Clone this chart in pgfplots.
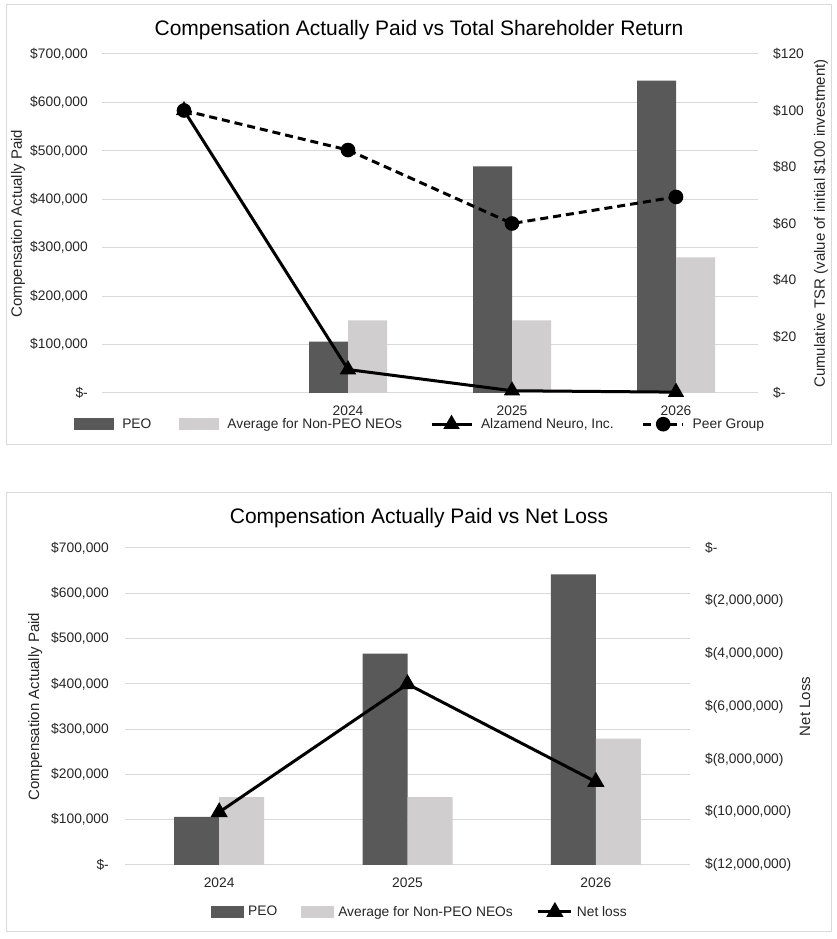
\documentclass[border=0pt]{standalone}
\usepackage{pgfplots}
\pgfplotsset{compat=1.18}
\usepackage{fontspec}
\setmainfont{Liberation Sans}
\definecolor{peo}{HTML}{595959}
\definecolor{npeo}{HTML}{D0CECE}
\definecolor{gridgray}{HTML}{D9D9D9}
\definecolor{framegray}{HTML}{D9D9D9}
\definecolor{txt}{HTML}{262626}
\newcommand{\tickfont}{\fontsize{13.8}{16}\selectfont}
\newcommand{\labfont}{\fontsize{15}{18}\selectfont}
\newcommand{\titfont}{\fontsize{21}{25}\selectfont}
\pgfplotsset{
  common/.style={
    scale only axis, anchor=south west,
    /pgf/number format/assume math mode=true,
    scaled y ticks=false, scaled x ticks=false,
    axis line style={draw=none}, tick style={draw=none},
    ticklabel style={font=\tickfont, inner sep=0pt, text=txt},
    label style={font=\labfont, text=txt},
    clip=false,
  },
  barimg/.style={legend image code/.code={\fill[##1] (0pt,-6pt) rectangle (#1,6pt);}},
  lineimg/.style={legend image code/.code={\draw[##1, mark repeat=2, mark phase=2] plot coordinates {(0pt,0pt) (#1/2,0pt) (#1,0pt)};}},
}
\begin{document}
\begin{tikzpicture}[x=1pt,y=1pt]
\path[use as bounding box, fill=white] (0,0) rectangle (836,939);
\draw[framegray, line width=1pt] (6,494) rectangle (831,934);
\draw[framegray, line width=1pt] (6,7) rectangle (831,446);
\node[font=\titfont, text=black] at (419,909) {Compensation Actually Paid vs Total Shareholder Return};
\node[font=\titfont, text=black] at (419,421) {Compensation Actually Paid vs Net Loss};

% ---------- Top chart: bars ----------
\begin{axis}[common,
  at={(102pt,546pt)}, width=656pt, height=339pt,
  xmin=-0.5, xmax=3.5, ymin=0, ymax=700000,
  ybar=0pt, bar width=39pt,
  xtick={1,2,3}, xticklabels={2024,2025,2026},
  xticklabel style={anchor=north, yshift=-8pt},
  ytick={0,100000,200000,300000,400000,500000,600000,700000},
  yticklabels={{\$-},{\$100,000},{\$200,000},{\$300,000},{\$400,000},{\$500,000},{\$600,000},{\$700,000}},
  yticklabel style={anchor=east, xshift=-14pt},
  ymajorgrids, grid style={draw=gridgray, line width=1pt},
  ylabel={Compensation Actually Paid},
  ylabel style={at={(axis description cs:-0.128,0.5)}, anchor=center},
]
\addplot[fill=peo, draw=none] coordinates {(1,106000) (2,468000) (3,645000)};
\addplot[fill=npeo, draw=none] coordinates {(1,150000) (2,150000) (3,280000)};
\end{axis}

% ---------- Top chart: TSR lines ----------
\begin{axis}[common,
  at={(102pt,546pt)}, width=656pt, height=339pt,
  xmin=-0.5, xmax=3.5, ymin=0, ymax=120,
  axis y line*=right, axis x line=none,
  ytick={0,20,40,60,80,100,120},
  yticklabels={{\$-},{\$20},{\$40},{\$60},{\$80},{\$100},{\$120}},
  yticklabel style={anchor=west, xshift=15pt},
  ylabel={Cumulative TSR (value of initial \$100 investment)},
  ylabel style={at={(axis description cs:1.096,0.5)}, anchor=center},
  legend columns=4,
  legend style={draw=none, fill=none, font=\tickfont, text=txt,
    at={(axis description cs:0.485,-0.092)}, anchor=center,
    /tikz/every odd column/.append style={column sep=6pt},
    /tikz/every even column/.append style={column sep=26pt},
    cells={anchor=west}},
]
\addlegendimage{barimg=40pt, fill=peo, draw=none}
\addlegendentry{PEO}
\addlegendimage{barimg=40pt, fill=npeo, draw=none}
\addlegendentry{Average for Non-PEO NEOs}
\addplot[lineimg=40pt, black, line width=3pt, mark=triangle*, mark size=6.5pt]
  coordinates {(0,100) (1,8.3) (2,0.8) (3,0.3)};
\addlegendentry{Alzamend Neuro, Inc.}
\addplot[lineimg=40pt, black, line width=3pt, dash pattern=on 8pt off 5pt, mark=*, mark size=5.8pt, mark options={solid}]
  coordinates {(0,100) (1,86) (2,60) (3,69.4)};
\addlegendentry{Peer Group}
\end{axis}

% ---------- Bottom chart: bars ----------
\begin{axis}[common,
  at={(125pt,74pt)}, width=565pt, height=317pt,
  xmin=-0.5, xmax=2.5, ymin=0, ymax=700000,
  ybar=0pt, bar width=45pt,
  xtick={0,1,2}, xticklabels={2024,2025,2026},
  xticklabel style={anchor=north, yshift=-8pt},
  ytick={0,100000,200000,300000,400000,500000,600000,700000},
  yticklabels={{\$-},{\$100,000},{\$200,000},{\$300,000},{\$400,000},{\$500,000},{\$600,000},{\$700,000}},
  yticklabel style={anchor=east, xshift=-16pt},
  ymajorgrids, grid style={draw=gridgray, line width=1pt},
  ylabel={Compensation Actually Paid},
  ylabel style={at={(axis description cs:-0.159,0.5)}, anchor=center},
]
\addplot[fill=peo, draw=none] coordinates {(0,106000) (1,467000) (2,642000)};
\addplot[fill=npeo, draw=none] coordinates {(0,150000) (1,150000) (2,279000)};
\end{axis}

% ---------- Bottom chart: net loss ----------
\begin{axis}[common,
  at={(125pt,74pt)}, width=565pt, height=317pt,
  xmin=-0.5, xmax=2.5, ymin=-12000000, ymax=0,
  axis y line*=right, axis x line=none,
  ytick={-12000000,-10000000,-8000000,-6000000,-4000000,-2000000,0},
  yticklabels={{\$(12,000,000)},{\$(10,000,000)},{\$(8,000,000)},{\$(6,000,000)},{\$(4,000,000)},{\$(2,000,000)},{\$-}},
  yticklabel style={anchor=west, xshift=15pt},
  ylabel={Net Loss},
  ylabel style={at={(axis description cs:1.2035,0.5)}, anchor=center},
  legend columns=3,
  legend style={draw=none, fill=none, font=\tickfont, text=txt,
    at={(axis description cs:0.522,-0.148)}, anchor=center,
    /tikz/every odd column/.append style={column sep=2pt},
    /tikz/every even column/.append style={column sep=22pt},
    cells={anchor=west}},
]
\addlegendimage{barimg=33pt, fill=peo, draw=none}
\addlegendentry{PEO}
\addlegendimage{barimg=33pt, fill=npeo, draw=none}
\addlegendentry{Average for Non-PEO NEOs}
\addplot[lineimg=33pt, black, line width=3pt, mark=triangle*, mark size=7pt]
  coordinates {(0,-10000000) (1,-5150000) (2,-8850000)};
\addlegendentry{Net loss}
\end{axis}
\end{tikzpicture}
\end{document}
